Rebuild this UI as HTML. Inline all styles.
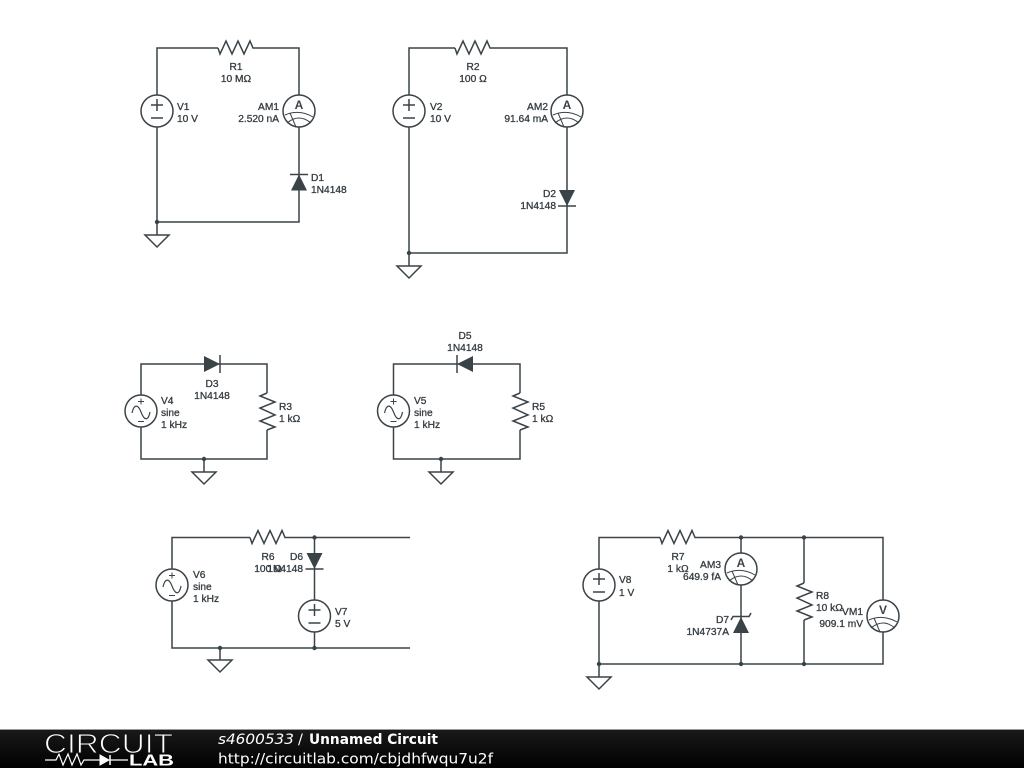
<!DOCTYPE html>
<html><head><meta charset="utf-8"><style>
html,body{margin:0;padding:0;background:#fff}
svg{display:block;filter:blur(.3px)}
.t text{font-family:"Liberation Sans",Arial,sans-serif;font-size:10.2px;fill:#343c41;stroke:#343c41;stroke-width:.3px}
.w{fill:none;stroke:#3a4348;stroke-width:1.5}
.f text{font-family:"DejaVu Sans",sans-serif;font-size:14.5px;fill:#fff}
</style></head><body>
<svg width="1024" height="768" viewBox="0 0 1024 768" xmlns="http://www.w3.org/2000/svg">
<defs>
<linearGradient id="g" x1="0" y1="0" x2="0" y2="1"><stop offset="0" stop-color="#1a1a1a"/><stop offset="1" stop-color="#000"/></linearGradient>
<g id="dc" class="w"><circle cx="0" cy="0" r="16" fill="#fff"/><path d="M-6-6H6M0-12V0M-6 7H6"/></g>
<g id="ac" class="w"><circle cx="0" cy="0" r="16" fill="#fff"/><path d="M-9 2C-7-7-3-7 0 1S7 11 9 1" stroke-width="1.200"/><path d="M-3-9.500H3M0-12.500V-6.500M-3 10.500H3" stroke-width="1"/></g>
<g id="mt" class="w"><circle cx="0" cy="0" r="16" fill="#fff"/><path d="M-14 4Q0-2 14 6M-12 12Q0 2 12 12M-9 2L-3 16" stroke-width="1"/></g>
<g id="gnd" class="w"><path d="M-12 0H12L0 12Z" fill="#fff"/></g>
<path id="rh" class="w" d="M0 0L2 6 8-7 14 6 20-7 26 6 32-7 35 0H36"/>
<path id="rv" class="w" d="M0 0L-7 3 8 9-7 15 8 22-7 28 8 34 0 37"/>
<g id="dd"><path d="M-8 0H8L0 16Z" fill="#3a4348"/><path class="w" d="M-9 16H9"/></g>
<circle id="dot" r="2.200" fill="#3a4348"/>
</defs>
<rect width="1024" height="768" fill="#fff"/>

<!-- circuit 1 -->
<path class="w" d="M157 95V48H218M254 48H299V95M299 127V222H157M157 127V235"/>
<use href="#rh" x="218" y="48"/><use href="#dc" x="157" y="111"/><use href="#mt" x="299" y="111"/>
<use href="#dd" transform="translate(299 190.500) rotate(180)"/>
<use href="#dot" x="157" y="222"/><use href="#gnd" x="157" y="235"/>
<!-- circuit 2 -->
<path class="w" d="M409 95V48H455M491 48H567V95M567 127V253H409M409 127V266"/>
<use href="#rh" x="455" y="48"/><use href="#dc" x="409" y="111"/><use href="#mt" x="567" y="111"/>
<use href="#dd" x="567" y="190"/>
<use href="#dot" x="409" y="253"/><use href="#gnd" x="409" y="266"/>
<!-- circuit 3 -->
<path class="w" d="M141 395V364H267V393M267 430V459H141V427M204 459V472"/>
<use href="#ac" x="141" y="411"/><use href="#rv" x="267" y="393"/>
<use href="#dd" transform="translate(204 364) rotate(-90)"/>
<use href="#dot" x="204" y="459"/><use href="#gnd" x="204" y="472"/>
<!-- circuit 4 -->
<path class="w" d="M393.500 395V364H520V393M520 430V459H393.500V427M441 459V472"/>
<use href="#ac" x="393.500" y="411"/><use href="#rv" x="520" y="393"/>
<use href="#dd" transform="translate(473 364) rotate(90)"/>
<use href="#dot" x="441" y="459"/><use href="#gnd" x="441" y="472"/>
<!-- circuit 5 -->
<path class="w" d="M172 569V537.500H250M286 537.500H410M314.500 537.500V600M314.500 632V648M172 601V648H410M220 648V660"/>
<use href="#rh" x="250" y="537.500"/><use href="#ac" x="172" y="585"/><use href="#dc" x="314.500" y="616"/>
<use href="#dd" x="314.500" y="553"/>
<use href="#dot" x="314.500" y="537.500"/><use href="#dot" x="314.500" y="648"/><use href="#dot" x="220" y="648"/>
<use href="#gnd" x="220" y="660"/>
<!-- circuit 6 -->
<path class="w" d="M599 569V537.500H660M696 537.500H883V600M741 537.500V553M741 585V664M804 537.500V583M804 620V664M883 632V664H599M599 601V677"/>
<use href="#rh" x="660" y="537.500"/><use href="#dc" x="599" y="585"/><use href="#mt" x="741" y="569"/>
<use href="#rv" x="804" y="583"/><use href="#mt" x="883" y="616"/>
<path d="M733 633H749L741 617Z" fill="#3a4348"/><path class="w" d="M731 620L733 616.500H749L751 613"/>
<use href="#dot" x="741" y="537.500"/><use href="#dot" x="804" y="537.500"/><use href="#dot" x="599" y="664"/><use href="#dot" x="741" y="664"/><use href="#dot" x="804" y="664"/>
<use href="#gnd" x="599" y="677"/>

<g class="t">
<text x="236" y="70" text-anchor="middle">R1</text><text x="236" y="82" text-anchor="middle">10 MΩ</text>
<text x="177" y="110">V1</text><text x="177" y="122">10 V</text>
<text x="279" y="110" text-anchor="end">AM1</text><text x="279" y="122" text-anchor="end">2.520 nA</text>
<text x="311" y="181">D1</text><text x="311" y="193">1N4148</text>

<text x="473" y="70" text-anchor="middle">R2</text><text x="473" y="82" text-anchor="middle">100 Ω</text>
<text x="430" y="110">V2</text><text x="430" y="122">10 V</text>
<text x="548" y="110" text-anchor="end">AM2</text><text x="548" y="122" text-anchor="end">91.64 mA</text>
<text x="556" y="197" text-anchor="end">D2</text><text x="556" y="209" text-anchor="end">1N4148</text>

<text x="212" y="387" text-anchor="middle">D3</text><text x="212" y="399" text-anchor="middle">1N4148</text>
<text x="161" y="404">V4</text><text x="161" y="416">sine</text><text x="161" y="428">1 kHz</text>
<text x="279" y="410">R3</text><text x="279" y="422">1 kΩ</text>

<text x="465" y="339" text-anchor="middle">D5</text><text x="465" y="351" text-anchor="middle">1N4148</text>
<text x="414" y="404">V5</text><text x="414" y="416">sine</text><text x="414" y="428">1 kHz</text>
<text x="532" y="410">R5</text><text x="532" y="422">1 kΩ</text>

<text x="268" y="560" text-anchor="middle">R6</text><text x="268" y="572" text-anchor="middle">100 Ω</text>
<text x="303" y="560" text-anchor="end">D6</text><text x="303" y="572" text-anchor="end">1N4148</text>
<text x="193" y="578">V6</text><text x="193" y="590">sine</text><text x="193" y="602">1 kHz</text>
<text x="335" y="615">V7</text><text x="335" y="627">5 V</text>

<text x="678" y="560" text-anchor="middle">R7</text><text x="678" y="572" text-anchor="middle">1 kΩ</text>
<text x="721" y="568" text-anchor="end">AM3</text><text x="721" y="580" text-anchor="end">649.9 fA</text>
<text x="619" y="583">V8</text><text x="619" y="596">1 V</text>
<text x="729" y="623" text-anchor="end">D7</text><text x="729" y="635" text-anchor="end">1N4737A</text>
<text x="816" y="599">R8</text><text x="816" y="611">10 kΩ</text>
<text x="863" y="615" text-anchor="end">VM1</text><text x="863" y="627" text-anchor="end">909.1 mV</text>
</g>
<g style="font-family:'Liberation Sans',sans-serif;font-size:12px;font-weight:bold;fill:#3a4348" text-anchor="middle">
<text x="299" y="109">A</text><text x="567" y="109">A</text><text x="741" y="567">A</text><text x="883" y="614">V</text>
</g>

<!-- footer -->
<rect y="729" width="1024" height="39" fill="url(#g)"/>
<rect y="729" width="1024" height="1" fill="#999"/>
<g fill="none" stroke="#fff">
<path d="M45 760H56L59 754 63 765 68 754 72 765 77 754 81 765 84 760H100M110 760H128" stroke-width="1.200"/>
<path d="M100 755V765L109 760Z" fill="#fff" stroke-width="1"/><path d="M110 755V765" stroke-width="1.500"/>
</g>
<text x="44" y="753" textLength="129" lengthAdjust="spacingAndGlyphs" style="font-family:'Liberation Sans',sans-serif;font-size:28px;fill:#fff;stroke:#111;stroke-width:1px">CIRCUIT</text>
<text x="129" y="765.500" textLength="45" lengthAdjust="spacingAndGlyphs" style="font-family:'Liberation Sans',sans-serif;font-size:15.500px;font-weight:bold;fill:#fff">LAB</text>
<g class="f">
<text x="218" y="744" font-style="italic" textLength="76" lengthAdjust="spacingAndGlyphs">s4600533</text>
<text x="298" y="744">/</text>
<text x="309" y="744" font-weight="bold" textLength="129" lengthAdjust="spacingAndGlyphs">Unnamed Circuit</text>
<text x="218" y="763.500" textLength="275" lengthAdjust="spacingAndGlyphs">http://circuitlab.com/cbjdhfwqu7u2f</text>
</g>
</svg>
</body></html>
